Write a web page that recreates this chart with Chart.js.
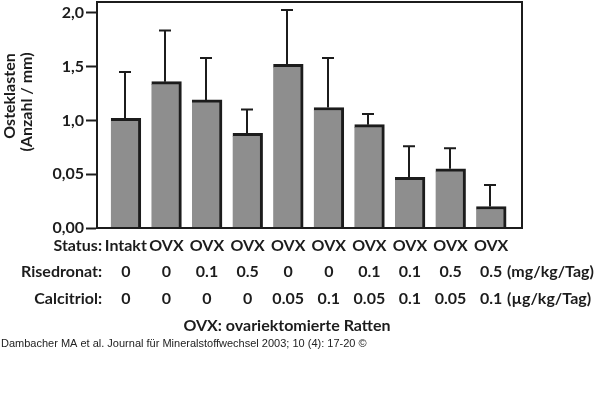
<!DOCTYPE html>
<html>
<head>
    <title></title>
    <script src="https://cdn.jsdelivr.net/npm/chart.js@4/dist/chart.umd.min.js"></script>
    <style>
        body { margin: 0; background: #fff; }
    </style>
</head>
<body>
    <canvas id="chart-area" width="600" height="393"></canvas>

    <script>
		// values
		var groups = ['Intakt', 'OVX', 'OVX', 'OVX', 'OVX', 'OVX', 'OVX', 'OVX', 'OVX', 'OVX'];
		var risedronat = ['0', '0', '0.1', '0.5', '0', '0', '0.1', '0.1', '0.5', '0.5'];
		var calcitriol = ['0', '0', '0', '0', '0.05', '0.1', '0.05', '0.1', '0.05', '0.1'];
		var osteoclasts = [1.02, 1.36, 1.19, 0.88, 1.52, 1.12, 0.96, 0.47, 0.55, 0.20];
		var upperSD = [1.45, 1.835, 1.58, 1.10, 2.025, 1.58, 1.06, 0.76, 0.74, 0.40];
		var tickValues = [0, 0.5, 1.0, 1.5, 2.0];
		var tickLabels = ['0,00', '0,05', '1,0', '1,5', '2,0'];

		var boldFont = 'Lato, "DejaVu Sans", sans-serif';
		var ink = '#1c1c1c';

		var extras = {
			id: 'extras',
			afterDatasetsDraw: function(chart) {
				var ctx = chart.ctx;
				var xs = chart.scales.x, ys = chart.scales.y;
				ctx.save();
				ctx.strokeStyle = ink;
				ctx.lineWidth = 2;
				for (var i = 0; i < osteoclasts.length; i++) {
					var x = Math.round(xs.getPixelForValue(i)) - 1;
					var y0 = ys.getPixelForValue(osteoclasts[i]);
					var y1 = ys.getPixelForValue(upperSD[i]);
					ctx.beginPath();
					ctx.moveTo(x, y0);
					ctx.lineTo(x, y1);
					ctx.moveTo(x - 6, y1);
					ctx.lineTo(x + 6, y1);
					ctx.stroke();
				}
				ctx.restore();
			},
			afterDraw: function(chart) {
				var ctx = chart.ctx;
				var a = chart.chartArea;
				var xs = chart.scales.x;
				ctx.save();
				// frame
				ctx.strokeStyle = ink;
				ctx.lineWidth = 2;
				ctx.strokeRect(a.left, a.top, a.right - a.left, a.bottom - a.top);

				// y title
				ctx.fillStyle = ink;
				ctx.font = 'bold 16px ' + boldFont;
				ctx.textAlign = 'center';
				ctx.textBaseline = 'middle';
				ctx.translate(10, 96);
				ctx.rotate(-Math.PI / 2);
				ctx.fillText('Osteklasten', 0, 0);
				ctx.fillText('(Anzahl / mm)', -6, 17);
				ctx.setTransform(1, 0, 0, 1, 0, 0);

				// table under the chart
				var rows = [
					{ head: 'Status:', vals: groups, y: 246, unit: '' },
					{ head: 'Risedronat:', vals: risedronat, y: 272, unit: '(mg/kg/Tag)' },
					{ head: 'Calcitriol:', vals: calcitriol, y: 299, unit: '(\u00b5g/kg/Tag)' }
				];
				rows.forEach(function(r) {
					ctx.textAlign = 'right';
					ctx.fillText(r.head, 102, r.y);
					ctx.textAlign = 'center';
					for (var i = 0; i < r.vals.length; i++) {
						ctx.fillText(r.vals[i], xs.getPixelForValue(i), r.y);
					}
					if (r.unit) {
						ctx.textAlign = 'left';
						ctx.fillText(r.unit, 507, r.y);
					}
				});
				ctx.textAlign = 'center';
				ctx.fillText('OVX: ovariektomierte Ratten', 287, 326);

				ctx.font = '11px "Liberation Sans", Arial, sans-serif';
				ctx.textAlign = 'left';
				ctx.fillStyle = '#222';
				ctx.fillText('Dambacher MA et al. Journal f\u00fcr Mineralstoffwechsel 2003; 10 (4): 17-20 \u00a9', 1, 344);
				ctx.restore();
			}
		};

		var config = {
			type: 'bar',
			data: {
				datasets: [{
					data: osteoclasts.map(function(v, i) { return { x: i, y: v }; }),
					backgroundColor: '#8e8e8e',
					borderColor: ink,
					borderWidth: { top: 3, right: 3, left: 0, bottom: 0 },
					borderSkipped: false,
					barThickness: 30
				}]
			},
			options: {
				responsive: false,
				animation: false,
				layout: { padding: { left: 0, top: 2, right: 78, bottom: 165 } },
				plugins: {
					legend: { display: false },
					tooltip: { enabled: false }
				},
				scales: {
					x: {
						type: 'linear',
						min: -0.71,
						max: 9.76,
						offset: false,
						display: false
					},
					y: {
						min: 0,
						max: 2.1,
						afterBuildTicks: function(scale) {
							scale.ticks = tickValues.map(function(v) { return { value: v }; });
						},
						afterFit: function(scale) {
							scale.width = 97;
							scale.paddingTop = 0;
							scale.paddingBottom = 0;
						},
						border: { display: true, color: ink, width: 2 },
						grid: {
							drawOnChartArea: false,
							tickLength: 11,
							tickWidth: 2,
							tickColor: ink
						},
						ticks: {
							padding: 2,
							color: ink,
							font: { family: boldFont, size: 16, weight: 'bold' },
							callback: function(value) {
								return tickLabels[tickValues.indexOf(value)];
							}
						}
					}
				}
			},
			plugins: [extras]
		};

		window.onload = function() {
			var ctx = document.getElementById('chart-area').getContext('2d');
			window.myBar = new Chart(ctx, config);
		};
    </script>
</body>
</html>
